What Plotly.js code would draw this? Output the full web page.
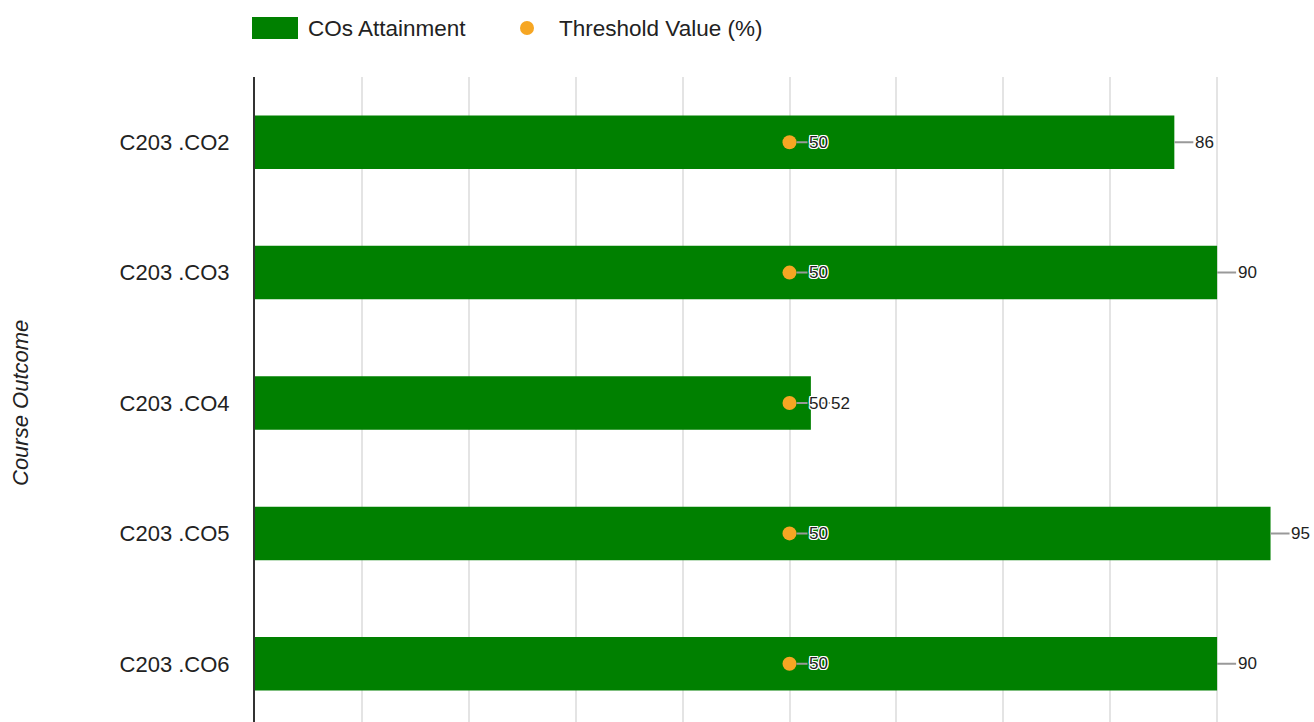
<!DOCTYPE html>
<html>
<head>
<meta charset="utf-8">
<script src="https://cdn.plot.ly/plotly-3.0.1.min.js"></script>
<style>html,body{margin:0;padding:0;background:#fff;}#chart{width:1314px;height:722px;}</style>
</head>
<body>
<div id="chart"></div>
<script>
const categories = ["C203 .CO2", "C203 .CO3", "C203 .CO4", "C203 .CO5", "C203 .CO6"];
const attainment = [86, 90, 52, 95, 90];
const threshold = [50, 50, 50, 50, 50];
const seriesNames = ["COs Attainment", "Threshold Value (%)"];
const axisTitle = "Course Outcome";

const W = 1314, H = 722;
const M = {l: 255, r: 0, t: 77, b: 0};
const pw = W - M.l - M.r, ph = H - M.t - M.b;
const px = x => (x - M.l) / pw;
const py = y => (H - M.b - y) / ph;

const GREEN = "#008000", ORANGE = "#f6a623", FONT = "Liberation Sans, Arial, sans-serif";

const traces = [
  {type: "bar", orientation: "h", y: categories, x: attainment, name: seriesNames[0],
   marker: {color: GREEN}, width: 0.41, hoverinfo: "x+y"},
  {type: "scatter", mode: "markers", y: categories, x: threshold, name: seriesNames[1],
   marker: {color: ORANGE, size: 14}, hoverinfo: "x+y"}
];

const annotations = [];
const halo = "1px 1px 0 #fff, -1px -1px 0 #fff, 1px -1px 0 #fff, -1px 1px 0 #fff, 0 1px 0 #fff, 0 -1px 0 #fff, 1px 0 0 #fff, -1px 0 0 #fff";
categories.forEach((c, i) => {
  annotations.push({x: attainment[i], y: c, xref: "x", yref: "y", text: String(attainment[i]),
    showarrow: true, arrowhead: 0, arrowwidth: 2, arrowcolor: "#999", ax: 30, ay: 0,
    font: {family: FONT, size: 17, color: "#222"}});
  annotations.push({x: threshold[i], y: c, xref: "x", yref: "y", text: String(threshold[i]),
    showarrow: true, arrowhead: 0, arrowwidth: 2, arrowcolor: "#999", ax: 29, ay: 0, standoff: 7,
    font: {family: FONT, size: 17, color: "#222", shadow: halo}});
});

// custom legend
annotations.push({xref: "paper", yref: "paper", x: px(306), y: py(28), xanchor: "left", yanchor: "middle",
  text: seriesNames[0], showarrow: false, font: {family: FONT, size: 22.5, color: "#222"}});
annotations.push({xref: "paper", yref: "paper", x: px(557), y: py(28), xanchor: "left", yanchor: "middle",
  text: seriesNames[1], showarrow: false, font: {family: FONT, size: 22.5, color: "#222"}});
// axis title
annotations.push({xref: "paper", yref: "paper", x: px(20), y: py(403), xanchor: "center", yanchor: "middle",
  text: "<i>" + axisTitle + "</i>", textangle: -90, showarrow: false, font: {family: FONT, size: 22, color: "#222"}});

const shapes = [
  {type: "rect", xref: "paper", yref: "paper", x0: px(252), x1: px(298), y0: py(17), y1: py(39),
   fillcolor: GREEN, line: {width: 0}},
  {type: "circle", xref: "paper", yref: "paper", x0: px(520), x1: px(534), y0: py(21), y1: py(35),
   fillcolor: ORANGE, line: {width: 0}}
];

const layout = {
  width: W, height: H, margin: M,
  paper_bgcolor: "#fff", plot_bgcolor: "#fff",
  showlegend: false,
  font: {family: FONT, color: "#222"},
  xaxis: {range: [0, (W - M.l - M.r) / 10.69], dtick: 10, showgrid: true, gridcolor: "#e4e4e4", gridwidth: 2,
          zeroline: false, showticklabels: false, ticks: "", fixedrange: true},
  yaxis: {type: "category", categoryorder: "array", categoryarray: categories,
          range: [-0.5 + ph / 130.4, -0.5], showgrid: false, zeroline: false,
          showline: true, linecolor: "#333", linewidth: 2, ticks: "", ticklabelstandoff: 19,
          tickfont: {family: FONT, size: 22, color: "#222"}},
  annotations: annotations, shapes: shapes
};

Plotly.newPlot("chart", traces, layout, {displayModeBar: false, staticPlot: true});
</script>
</body>
</html>
